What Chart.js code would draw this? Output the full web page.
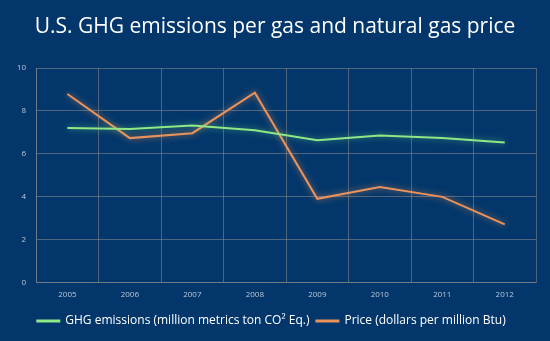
<!DOCTYPE html>
<html>
<head>
<meta charset="utf-8">
<script src="https://cdn.jsdelivr.net/npm/chart.js@4/dist/chart.umd.min.js"></script>
<style>
  html, body { margin: 0; padding: 0; background: #03376b; }
  #wrap { position: relative; width: 550px; height: 341px; }
  #titre { position: absolute; left: 0; top: 11px; width: 550px; text-align: center;
           color: #ffffff; font-family: "Open Sans", sans-serif; font-size: 21px; }
</style>
</head>
<body>
<div id="wrap">
  <div id="titre">U.S. GHG emissions per gas and natural gas price</div>
  <canvas id="ghgPrix" width="550" height="341"></canvas>
</div>
<script>
var annees = ['2005','2006','2007','2008','2009','2010','2011','2012'];
var emissions = [7.2, 7.15, 7.32, 7.1, 6.63, 6.85, 6.73, 6.53];
var prix = [8.79, 6.73, 6.96, 8.85, 3.9, 4.45, 3.99, 2.71];

// halo autour des lignes
var halo = {
    id: 'halo',
    beforeDatasetDraw: function(chart, args) {
        var c = chart.ctx;
        c.save();
        c.shadowColor = args.index === 0 ? 'rgba(120,230,120,0.6)' : 'rgba(255,150,80,0.7)';
        c.shadowBlur = 6;
    },
    afterDatasetDraw: function(chart) {
        chart.ctx.restore();
    }
};

var ctx = document.getElementById('ghgPrix').getContext('2d');
var ghgPrix = new Chart(ctx, {
    type: 'line',
    data: {
        labels: annees,
        datasets: [{
            label: 'GHG emissions (million metrics ton CO\u00b2 Eq.)',
            data: emissions,
            borderColor: '#8ee886',
            backgroundColor: '#8ee886',
            borderWidth: 2,
            pointRadius: 0,
            tension: 0
        }, {
            label: 'Price (dollars per million Btu)',
            data: prix,
            borderColor: '#ea935c',
            backgroundColor: '#ea935c',
            borderWidth: 2,
            pointRadius: 0,
            tension: 0
        }]
    },
    options: {
        responsive: false,
        animation: false,
        layout: { padding: { top: 68, left: 7, right: 14, bottom: 4 } },
        scales: {
            x: {
                offset: true,
                grid: { color: 'rgba(140,140,140,0.55)', offset: true, drawTicks: false },
                border: { color: 'rgba(140,140,140,0.55)' },
                ticks: { color: '#b9c6d6', font: { family: 'Open Sans', size: 8 }, padding: 8 }
            },
            y: {
                min: 0,
                max: 10,
                grid: { color: 'rgba(140,140,140,0.55)', drawTicks: false },
                border: { color: 'rgba(140,140,140,0.55)' },
                ticks: { stepSize: 2, color: '#b9c6d6', font: { family: 'Open Sans', size: 8 }, padding: 10 }
            }
        },
        plugins: {
            legend: {
                position: 'bottom',
                labels: {
                    color: '#ffffff',
                    font: { family: 'Open Sans', size: 12 },
                    boxWidth: 22,
                    boxHeight: 1,
                    padding: 7
                }
            },
            tooltip: { enabled: false }
        }
    },
    plugins: [halo]
});
</script>
</body>
</html>
